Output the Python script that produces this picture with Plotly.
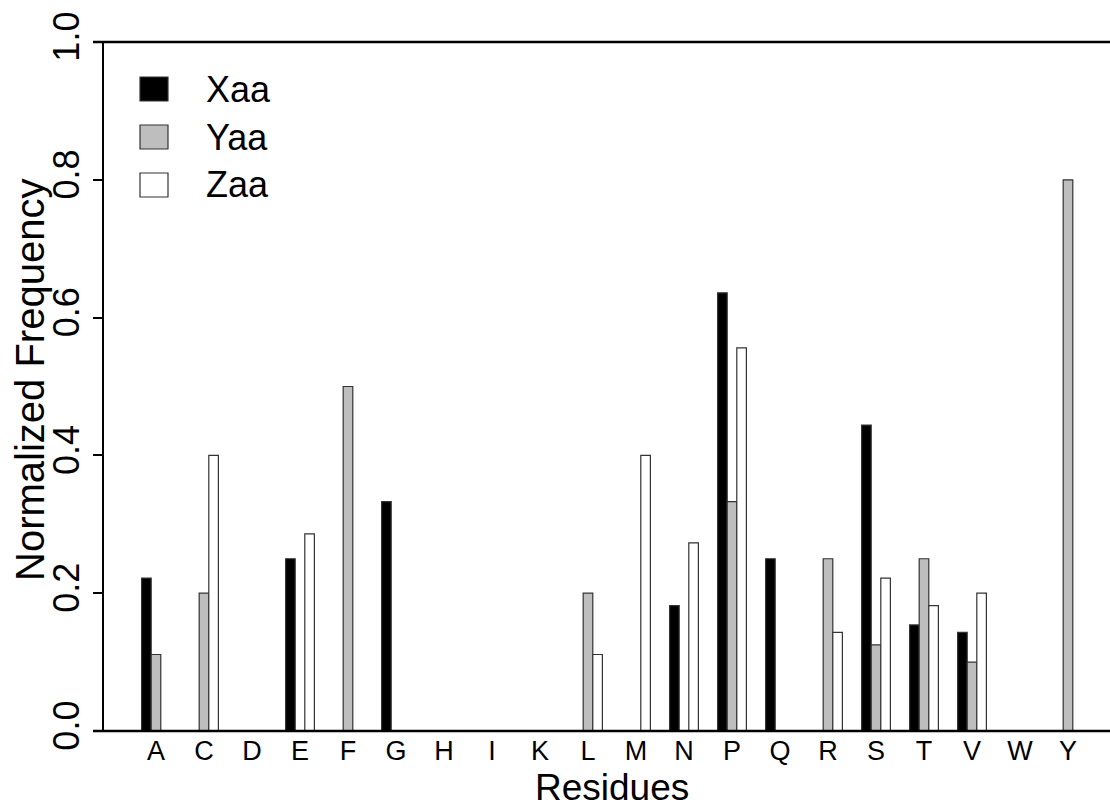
import plotly.graph_objects as go

residues = ["A", "C", "D", "E", "F", "G", "H", "I", "K", "L",
            "M", "N", "P", "Q", "R", "S", "T", "V", "W", "Y"]
xaa = [0.222, 0, 0, 0.25, 0, 0.333, 0, 0, 0, 0,
       0, 0.182, 0.636, 0.25, 0, 0.444, 0.154, 0.143, 0, 0]
yaa = [0.111, 0.2, 0, 0, 0.5, 0, 0, 0, 0, 0.2,
       0, 0, 0.333, 0, 0.25, 0.125, 0.25, 0.1, 0, 0.8]
zaa = [0, 0.4, 0, 0.286, 0, 0, 0, 0, 0, 0.111,
       0.4, 0.273, 0.556, 0, 0.143, 0.222, 0.182, 0.2, 0, 0]
series_names = ["Xaa", "Yaa", "Zaa"]
series_colors = ["#000000", "#bebebe", "#ffffff"]
yticks = [0.0, 0.2, 0.4, 0.6, 0.8, 1.0]

W, H = 1110, 808
L, R, T, B = 104, 1110, 42, 731  # plot area in pixels
FONT = "Liberation Sans, Arial, Helvetica, sans-serif"


def px(x):
    return (x - L) / (R - L)


def py(y):
    return (B - y) / (B - T)


fig = go.Figure()
for name, vals, col in zip(series_names, [xaa, yaa, zaa], series_colors):
    fig.add_trace(go.Bar(
        x=residues, y=vals, name=name,
        marker=dict(color=col, line=dict(color="#333333", width=1.2)),
        showlegend=False,
    ))

shapes = [
    dict(type="line", xref="paper", yref="paper", x0=px(93), x1=1, y0=0, y1=0,
         line=dict(color="black", width=2.5)),
    dict(type="line", xref="paper", yref="paper", x0=px(93), x1=1, y0=1, y1=1,
         line=dict(color="black", width=2.5)),
]
annotations = []
# custom legend
for i, (name, col) in enumerate(zip(series_names, series_colors)):
    cy = 89 + 48 * i
    shapes.append(dict(type="rect", xref="paper", yref="paper",
                       x0=px(140), x1=px(168), y0=py(cy + 12), y1=py(cy - 12),
                       fillcolor=col, line=dict(color="#333333", width=1.2)))
    annotations.append(dict(xref="paper", yref="paper", x=px(204), y=py(cy),
                            text=name, showarrow=False, xanchor="left",
                            yanchor="middle",
                            font=dict(family=FONT, size=36, color="black")))

annotations.append(dict(xref="paper", yref="paper", x=px(612), y=py(787),
                        text="Residues", showarrow=False, xanchor="center",
                        yanchor="middle",
                        font=dict(family=FONT, size=37, color="black")))
annotations.append(dict(xref="paper", yref="paper", x=px(30), y=py(380),
                        text="Normalized Frequency", showarrow=False,
                        textangle=-90, xanchor="center", yanchor="middle",
                        font=dict(family=FONT, size=40, color="black")))

fig.update_layout(
    width=W, height=H,
    margin=dict(l=L, r=W - R, t=T, b=H - B, pad=0),
    paper_bgcolor="white", plot_bgcolor="white",
    barmode="group", bargap=0.4, bargroupgap=0,
    shapes=shapes, annotations=annotations,
    xaxis=dict(
        type="category", range=[-1.083, 19.875],
        showline=False, showgrid=False, zeroline=False, ticks="",
        ticklabelstandoff=1,
        tickfont=dict(family=FONT, size=27, color="black"),
    ),
    yaxis=dict(
        range=[0, 1], showgrid=False, zeroline=False,
        showline=True, linecolor="black", linewidth=2,
        ticks="outside", ticklen=9, tickwidth=2, tickcolor="black",
        tickvals=yticks, ticktext=[f"{v:.1f}" for v in yticks],
        tickangle=-90,
        tickfont=dict(family=FONT, size=36, color="black"),
    ),
)

fig.write_html("out.html")
